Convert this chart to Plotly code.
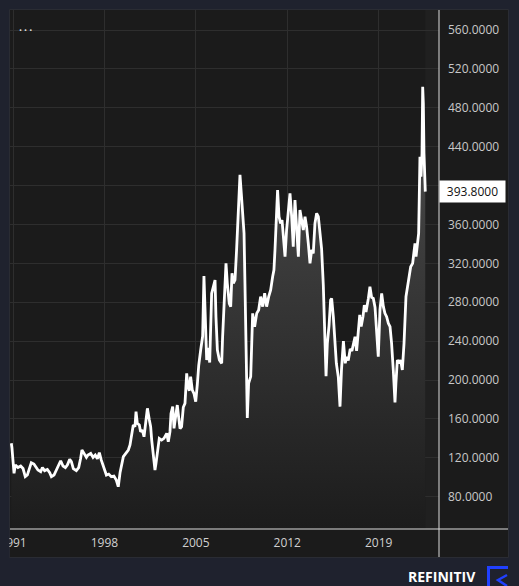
import plotly.graph_objects as go
import pandas as pd

# ---- data ----
years = [
    1990.87, 1990.92, 1991.08, 1991.18, 1991.38, 1991.59, 1991.77, 1991.94, 1992.10, 1992.28,
    1992.40, 1992.60, 1992.79, 1992.91, 1993.12, 1993.25, 1993.42, 1993.63, 1993.81, 1993.94,
    1994.14, 1994.32, 1994.50, 1994.65, 1994.83, 1995.01, 1995.16, 1995.34, 1995.47, 1995.62,
    1995.85, 1996.03, 1996.18, 1996.28, 1996.44, 1996.62, 1996.74, 1996.95, 1997.13, 1997.30,
    1997.46, 1997.61, 1997.76, 1997.97, 1998.15, 1998.33, 1998.53, 1998.73, 1998.91, 1999.06,
    1999.20, 1999.45, 1999.70, 1999.83, 1999.96, 2000.09, 2000.21, 2000.34, 2000.42, 2000.52,
    2000.67, 2000.77, 2000.90, 2001.03, 2001.18, 2001.29, 2001.44, 2001.54, 2001.62, 2001.74,
    2001.87, 2001.95, 2002.05, 2002.20, 2002.38, 2002.56, 2002.77, 2002.89, 2003.02, 2003.10,
    2003.23, 2003.33, 2003.45, 2003.58, 2003.68, 2003.79, 2003.91, 2004.04, 2004.17, 2004.30,
    2004.40, 2004.50, 2004.60, 2004.73, 2004.86, 2004.99, 2005.11, 2005.22, 2005.37, 2005.52,
    2005.62, 2005.73, 2005.83, 2005.95, 2006.06, 2006.21, 2006.34, 2006.47, 2006.54, 2006.65,
    2006.80, 2006.98, 2007.05, 2007.16, 2007.31, 2007.41, 2007.56, 2007.67, 2007.77, 2007.87,
    2008.00, 2008.12, 2008.25, 2008.38, 2008.48, 2008.59, 2008.69, 2008.76, 2008.84, 2008.94,
    2009.04, 2009.20, 2009.35, 2009.50, 2009.66, 2009.81, 2009.96, 2010.12, 2010.27, 2010.42,
    2010.58, 2010.73, 2010.88, 2010.98, 2011.06, 2011.19, 2011.26, 2011.37, 2011.49, 2011.60,
    2011.70, 2011.83, 2011.95, 2012.08, 2012.21, 2012.34, 2012.46, 2012.59, 2012.72, 2012.85,
    2012.97, 2013.10, 2013.23, 2013.36, 2013.48, 2013.61, 2013.74, 2013.87, 2013.99, 2014.12,
    2014.25, 2014.38, 2014.50, 2014.63, 2014.76, 2014.89, 2014.97, 2015.07, 2015.20, 2015.32,
    2015.40, 2015.53, 2015.64, 2015.76, 2015.91, 2016.04, 2016.15, 2016.30, 2016.44, 2016.55,
    2016.67, 2016.82, 2016.95, 2017.06, 2017.19, 2017.31, 2017.44, 2017.55, 2017.66, 2017.80,
    2017.90, 2018.03, 2018.21, 2018.33, 2018.46, 2018.59, 2018.72, 2018.85, 2018.97, 2019.10,
    2019.23, 2019.36, 2019.48, 2019.61, 2019.74, 2019.87, 2019.99, 2020.12, 2020.25, 2020.32,
    2020.43, 2020.58, 2020.68, 2020.81, 2020.94, 2021.09, 2021.22, 2021.35, 2021.45, 2021.60,
    2021.70, 2021.78, 2021.86, 2021.96, 2022.06, 2022.11, 2022.16, 2022.24, 2022.32, 2022.37,
    2022.42, 2022.47, 2022.52, 2022.57,
]
values = [
    135.0, 130.0, 104.0, 112.6, 110.0, 111.6, 109.0, 100.6, 102.3, 109.0,
    115.0, 113.6, 110.0, 107.5, 105.7, 110.0, 106.8, 108.0, 104.7, 100.6,
    102.3, 107.5, 114.3, 117.0, 111.6, 110.0, 112.6, 118.4, 116.0, 109.0,
    106.8, 110.0, 119.5, 128.0, 124.6, 120.5, 122.9, 124.6, 120.5, 122.9,
    119.1, 125.3, 117.6, 110.0, 102.3, 103.3, 100.6, 101.3, 97.2, 90.3,
    105.0, 121.2, 126.3, 128.0, 133.2, 146.9, 153.7, 152.0, 167.5, 155.5,
    153.7, 146.9, 148.6, 141.7, 157.2, 170.9, 158.9, 152.0, 138.3, 121.2,
    107.5, 114.3, 124.6, 140.0, 138.3, 140.0, 145.2, 136.6, 146.9, 165.7,
    172.6, 150.3, 162.3, 174.3, 162.3, 150.0, 152.0, 172.0, 176.0, 206.9,
    193.2, 189.0, 203.5, 189.7, 186.0, 177.7, 195.0, 215.0, 230.9, 245.0,
    307.0, 260.0, 220.6, 233.0, 218.0, 289.2, 296.0, 302.9, 265.2, 230.9,
    220.6, 217.2, 244.6, 272.1, 320.1, 299.5, 278.9, 275.5, 309.8, 299.5,
    302.9, 333.8, 368.1, 411.0, 392.0, 364.6, 350.9, 299.5, 230.9, 161.0,
    196.6, 203.5, 268.6, 254.9, 268.6, 272.1, 285.8, 275.5, 289.2, 275.5,
    285.8, 292.6, 306.3, 313.2, 333.8, 368.1, 395.5, 368.1, 361.2, 364.6,
    347.5, 326.9, 354.3, 378.3, 392.0, 368.1, 337.2, 385.2, 361.2, 326.9,
    374.9, 364.6, 354.3, 368.1, 357.8, 340.6, 320.1, 333.8, 330.3, 361.2,
    371.5, 368.1, 355.0, 335.0, 298.0, 244.6, 204.0, 237.8, 256.0, 282.3,
    284.0, 265.0, 236.0, 217.2, 203.0, 172.6, 210.0, 240.0, 217.2, 224.0,
    220.0, 232.0, 230.0, 237.8, 244.6, 230.0, 251.5, 267.0, 255.0, 265.2,
    277.0, 270.0, 284.0, 296.0, 285.0, 284.0, 275.0, 250.0, 224.0, 272.1,
    289.2, 275.5, 268.6, 265.2, 258.3, 254.9, 237.8, 210.3, 177.0, 196.6,
    220.6, 217.2, 220.6, 210.3, 237.8, 285.8, 296.0, 309.7, 316.6, 320.0,
    333.8, 340.6, 326.9, 340.6, 350.9, 388.6, 429.7, 409.2, 433.2, 501.7,
    484.6, 433.2, 416.0, 393.8,
]
y_ticks = [80, 120, 160, 200, 240, 280, 320, 360, 400, 440, 480, 520, 560]
x_tick_years = [1991, 1998, 2005, 2012, 2019]
last_value = 393.8
brand = "REFINITIV"


def fy_to_date(fy):
    y = int(fy)
    start = pd.Timestamp(year=y, month=1, day=1)
    end = pd.Timestamp(year=y + 1, month=1, day=1)
    return start + (end - start) * (fy - y)


dates = [fy_to_date(v) for v in years]

# ---- layout geometry ----
W, H = 519, 586
L, R, T, B = 10, 80, 10, 57
PW, PH = W - L - R, H - T - B


def px(x):
    return (x - L) / PW


def py(y):
    return (H - B - y) / PH


PAPER = "#1f222e"
PANEL = "#1b1b1b"
GRID = "#2e2e2e"
BLUE = "#2040ff"

fig = go.Figure()
fig.add_trace(go.Scatter(
    x=dates, y=values, mode="lines",
    line=dict(color="#ffffff", width=2.8),
    fill="tozeroy",
    fillgradient=dict(type="vertical", start=46.8, stop=500,
                      colorscale=[[0, "#1c1c1c"], [1, "#4e4e4e"]]),
    hoverinfo="skip", showlegend=False,
))

shapes = [
    # panel
    dict(type="rect", xref="paper", yref="paper", x0=px(9.5), x1=px(508.5),
         y0=py(557.5), y1=py(9.5), fillcolor=PANEL,
         line=dict(color="#2a2c33", width=1), layer="below"),
    # future band
    dict(type="rect", xref="x", yref="paper", x0=dates[-1], x1=fy_to_date(2023.62),
         y0=0, y1=1, fillcolor="rgba(255,255,255,0.025)", line=dict(width=0), layer="below"),
    # axis lines
    dict(type="line", xref="paper", yref="paper", x0=1, x1=1, y0=py(557), y1=py(10),
         line=dict(color="#dcdcdc", width=1), layer="above"),
    dict(type="line", xref="paper", yref="paper", x0=px(10), x1=px(508), y0=0, y1=0,
         line=dict(color="#dcdcdc", width=1), layer="above"),
    # clip left of panel
    dict(type="rect", xref="paper", yref="paper", x0=px(-2), x1=px(9.4),
         y0=py(557), y1=py(530), fillcolor=PAPER, line=dict(width=0), layer="above"),
]
# logo
logo = (f"M {px(487)} {py(566)} L {px(508)} {py(566)} L {px(508)} {py(569)} "
        f"L {px(490)} {py(569)} L {px(490)} {py(590)} L {px(487)} {py(590)} Z")
shapes.append(dict(type="path", xref="paper", yref="paper", path=logo,
                   fillcolor=BLUE, line=dict(width=0), layer="above"))
shapes.append(dict(type="path", xref="paper", yref="paper",
                   path=f"M {px(507)} {py(575)} L {px(498)} {py(580)} L {px(507)} {py(586)}",
                   line=dict(color=BLUE, width=2.5), layer="above"))

annotations = [
    dict(xref="paper", yref="y", x=1, y=last_value, xanchor="left", yanchor="middle",
         text=f"{last_value:.4f}", showarrow=False, bgcolor="#ffffff",
         font=dict(color="#111111", size=12, family="Open Sans"),
         width=61, align="center", borderpad=2),
    dict(xref="paper", yref="paper", x=px(25), y=py(29), text="• • •", showarrow=False,
         font=dict(color="#d8d8d8", size=8, family="Open Sans"), xanchor="center", yanchor="middle"),
    dict(xref="paper", yref="paper", x=px(442.5), y=py(576.5), text=f"<b>{brand}</b>", showarrow=False,
         font=dict(color="#ffffff", size=14, family="Open Sans"), xanchor="center", yanchor="middle"),
]

fig.update_layout(
    width=W, height=H,
    margin=dict(l=L, r=R, t=T, b=B, autoexpand=False),
    paper_bgcolor=PAPER, plot_bgcolor=PANEL,
    showlegend=False,
    shapes=shapes, annotations=annotations,
    xaxis=dict(
        type="date",
        range=[fy_to_date(1990.77), fy_to_date(2023.62)],
        tickvals=[pd.Timestamp(year=y, month=1, day=1) for y in x_tick_years],
        ticktext=[str(y) for y in x_tick_years],
        showgrid=True, gridcolor=GRID, gridwidth=1,
        zeroline=False, showline=False, ticks="",
        tickfont=dict(color="#d0d0d0", size=12, family="Open Sans"),
        ticklabelstandoff=5, ticklabeloverflow="allow", fixedrange=True,
    ),
    yaxis=dict(
        side="right",
        range=[46.8, 580.6],
        tickvals=y_ticks, tickformat=".4f",
        showgrid=True, gridcolor=GRID, gridwidth=1,
        zeroline=False, showline=False, ticks="",
        tickfont=dict(color="#c8c8c8", size=12, family="Open Sans"),
        ticklabelstandoff=8, fixedrange=True,
    ),
)

fig.write_html("out.html", config=dict(displayModeBar=False))
